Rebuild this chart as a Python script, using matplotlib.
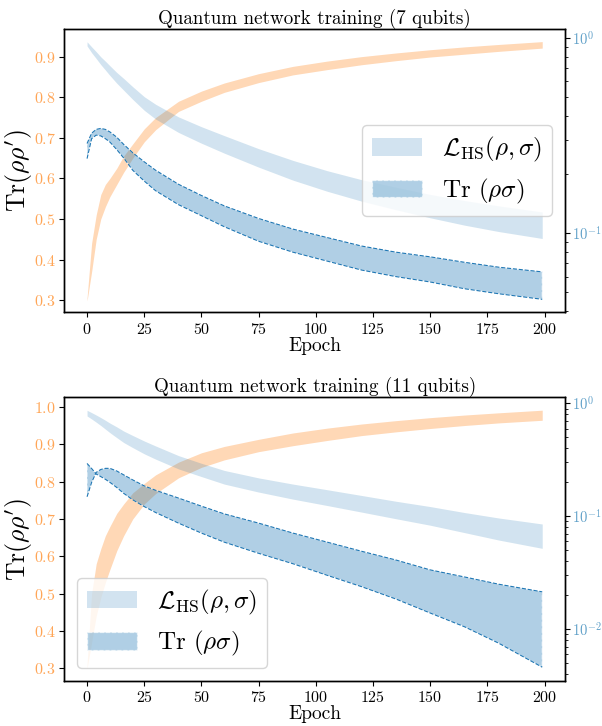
import numpy as np
import matplotlib.pyplot as plt
from matplotlib.ticker import NullFormatter

plt.rcParams['font.family'] = ['cmr10', 'DejaVu Serif']
plt.rcParams['mathtext.fontset'] = 'cm'
plt.rcParams['axes.formatter.use_mathtext'] = True
plt.rcParams['xtick.labelsize'] = 11.5
plt.rcParams['ytick.labelsize'] = 11.5
plt.rcParams['axes.linewidth'] = 1.0

epochs = [0, 2, 4, 6, 8, 10, 13, 16, 20, 25, 30, 40, 50, 60, 75, 90, 105, 120, 135, 150, 165, 180, 199]

# 7 qubits
fid7_hi = [0.305, 0.44, 0.51, 0.56, 0.585, 0.60, 0.625, 0.655, 0.685, 0.722, 0.75, 0.79, 0.815, 0.835, 0.858, 0.876, 0.889, 0.90, 0.909, 0.917, 0.924, 0.93, 0.937]
fid7_lo = [0.298, 0.37, 0.45, 0.50, 0.53, 0.555, 0.585, 0.615, 0.65, 0.69, 0.72, 0.765, 0.79, 0.812, 0.836, 0.855, 0.868, 0.88, 0.89, 0.899, 0.906, 0.913, 0.921]
loss7_hi = [0.955, 0.90, 0.85, 0.80, 0.76, 0.72, 0.665, 0.62, 0.562, 0.50, 0.457, 0.394, 0.351, 0.316, 0.271, 0.236, 0.209, 0.188, 0.172, 0.158, 0.147, 0.138, 0.1285]
loss7_lo = [0.91, 0.84, 0.784, 0.73, 0.685, 0.642, 0.586, 0.54, 0.484, 0.426, 0.384, 0.328, 0.289, 0.257, 0.218, 0.187, 0.164, 0.146, 0.132, 0.12, 0.11, 0.102, 0.094]
tr7_a = [0.288, 0.325, 0.340, 0.344, 0.340, 0.330, 0.31, 0.285, 0.258, 0.232, 0.21, 0.178, 0.156, 0.138, 0.119, 0.105, 0.095, 0.086, 0.080, 0.0757, 0.071, 0.067, 0.0634]
tr7_b = [0.241, 0.305, 0.318, 0.315, 0.305, 0.293, 0.268, 0.243, 0.21, 0.185, 0.165, 0.14, 0.123, 0.108, 0.091, 0.080, 0.072, 0.0648, 0.060, 0.0563, 0.052, 0.049, 0.0459]

# 11 qubits
fid11_hi = [0.31, 0.50, 0.58, 0.62, 0.655, 0.68, 0.715, 0.74, 0.77, 0.795, 0.818, 0.852, 0.877, 0.894, 0.913, 0.93, 0.943, 0.954, 0.963, 0.971, 0.978, 0.984, 0.991]
fid11_lo = [0.30, 0.37, 0.44, 0.49, 0.53, 0.565, 0.615, 0.655, 0.70, 0.74, 0.768, 0.81, 0.838, 0.858, 0.88, 0.896, 0.91, 0.923, 0.933, 0.942, 0.95, 0.957, 0.964]
loss11_hi = [0.87, 0.83, 0.79, 0.75, 0.71, 0.67, 0.62, 0.57, 0.52, 0.465, 0.42, 0.345, 0.295, 0.255, 0.219, 0.193, 0.172, 0.153, 0.136, 0.122, 0.108, 0.0966, 0.0855]
loss11_lo = [0.775, 0.729, 0.683, 0.638, 0.593, 0.551, 0.498, 0.451, 0.406, 0.358, 0.321, 0.263, 0.225, 0.193, 0.164, 0.142, 0.1246, 0.109, 0.0952, 0.0834, 0.0717, 0.0616, 0.052]
tr11_a = [0.294, 0.265, 0.237, 0.225, 0.213, 0.20, 0.18, 0.16, 0.14, 0.122, 0.108, 0.087, 0.071, 0.059, 0.047, 0.038, 0.030, 0.0238, 0.0185, 0.0139, 0.0105, 0.0075, 0.0046]
tr11_b = [0.149, 0.20, 0.245, 0.26, 0.266, 0.266, 0.252, 0.233, 0.21, 0.186, 0.17, 0.145, 0.123, 0.105, 0.087, 0.071, 0.059, 0.049, 0.041, 0.0335, 0.029, 0.025, 0.0214]

panels = [
    ('Quantum network training (7 qubits)', fid7_lo, fid7_hi, loss7_lo, loss7_hi, tr7_a, tr7_b,
     (0.27, 0.968), (0.0394, 1.11), 'center right'),
    ('Quantum network training (11 qubits)', fid11_lo, fid11_hi, loss11_lo, loss11_hi, tr11_a, tr11_b,
     (0.267, 1.025), (0.00349, 1.13), 'lower left'),
]

orange_txt = (1.0, 0.65, 0.34)
blue_txt = (0.38, 0.63, 0.79)

fig, axes = plt.subplots(2, 1, figsize=(6.02, 7.26), dpi=100)
plt.subplots_adjust(left=0.1068, right=0.9385, top=0.96, bottom=0.0624, hspace=0.301)

for ax, (title, f_lo, f_hi, l_lo, l_hi, t_a, t_b, ylim_l, ylim_r, loc) in zip(axes, panels):
    ax.fill_between(epochs, f_lo, f_hi, color='C1', alpha=0.3, linewidth=0)
    ax.set_ylim(*ylim_l)
    ax.set_xlim(-9.95, 208.95)
    ax.set_title(title, fontsize=13.7, pad=4)
    ax.set_xlabel('Epoch', fontsize=14, labelpad=0)
    ax.set_ylabel(r'$\mathrm{Tr}(\rho\rho^\prime)$', fontsize=18.5, labelpad=-1)
    ax.tick_params(axis='y', labelcolor=orange_txt, pad=2.5)

    ax2 = ax.twinx()
    ax2.set_yscale('log')
    ax2.fill_between(epochs, l_lo, l_hi, color='C0', alpha=0.2, linewidth=0,
                     label=r'$\mathcal{L}_{\rm HS}(\rho,\sigma)$')
    ax2.fill_between(epochs, t_a, t_b, facecolor=(0.12, 0.47, 0.71, 0.35),
                     edgecolor=(1, 1, 1, 0.6), linestyle='--', linewidth=0.9,
                     label=r'Tr $(\rho\sigma)$')
    ax2.plot(epochs, t_a, '--', color='C0', linewidth=0.8)
    ax2.plot(epochs, t_b, '--', color='C0', linewidth=0.8)
    ax2.set_ylim(*ylim_r)
    ax2.yaxis.set_minor_formatter(NullFormatter())
    ax2.tick_params(axis='y', which='both', labelcolor=blue_txt, labelsize=10.5, pad=1.5)
    ax2.legend(loc=loc, fontsize=18)

plt.savefig('out.png', dpi=100)
